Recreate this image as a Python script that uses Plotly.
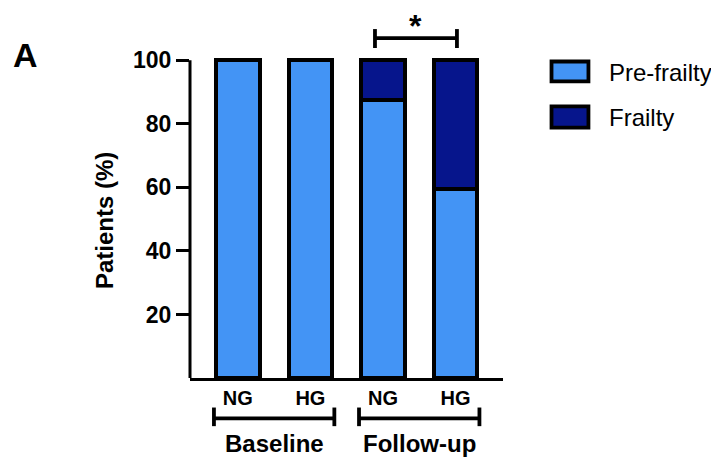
import plotly.graph_objects as go

# ---- data ----
bar_pos = [0, 1, 2, 3]
bar_labels = ["NG", "HG", "NG", "HG"]
pre_frailty = [100, 100, 87.5, 59.5]
frailty = [0, 0, 12.5, 40.5]
series_names = ["Pre-frailty", "Frailty"]
group_names = ["Baseline", "Follow-up"]
group_spans = [[0, 1], [2, 3]]
y_ticks = [20, 40, 60, 80, 100]
sig_pair = [2, 3]
sig_label = "*"

# ---- style ----
FONT = "Liberation Sans, Arial, sans-serif"
C_LIGHT = "#4394F5"
C_DARK = "#06158C"
LW = 3.8
BW = 0.6
colors = [C_LIGHT, C_DARK]

fig = go.Figure()
for name, vals, col in zip(series_names, [pre_frailty, frailty], colors):
    fig.add_trace(go.Bar(
        x=bar_pos, y=vals, name=name, width=BW,
        marker=dict(color=col, line=dict(color="black", width=LW)),
        showlegend=False, hoverinfo="skip",
    ))

shapes = []
annotations = []

# y axis line (0 to 100)
shapes.append(dict(type="line", xref="paper", yref="y", x0=0, x1=0, y0=0, y1=100,
                   line=dict(color="black", width=3)))

# group brackets under axis
for name, (a, b) in zip(group_names, group_spans):
    xl, xr = a - BW / 2 - 0.03, b + BW / 2 + 0.03
    shapes.append(dict(type="line", xref="x", yref="paper", x0=xl, x1=xr, y0=-0.126, y1=-0.126,
                       line=dict(color="black", width=LW)))
    for xx in (xl, xr):
        shapes.append(dict(type="line", xref="x", yref="paper", x0=xx, x1=xx, y0=-0.092, y1=-0.150,
                           line=dict(color="black", width=LW)))
    annotations.append(dict(text="<b>%s</b>" % name, xref="x", yref="paper", x=(a + b) / 2, y=-0.2025,
                            xanchor="center", yanchor="middle", showarrow=False,
                            font=dict(family=FONT, size=24, color="black")))

# significance bracket
sx0, sx1 = sig_pair[0] - 0.11, sig_pair[1] + 0.02
shapes.append(dict(type="line", xref="x", yref="paper", x0=sx0, x1=sx1, y0=1.059, y1=1.059,
                   line=dict(color="black", width=LW)))
for xx in (sx0, sx1):
    shapes.append(dict(type="line", xref="x", yref="paper", x0=xx, x1=xx, y0=1.028, y1=1.087,
                       line=dict(color="black", width=LW)))
annotations.append(dict(text="<b>%s</b>" % sig_label, xref="x", yref="paper", x=(sx0 + sx1) / 2, y=1.035,
                        xanchor="center", yanchor="bottom", showarrow=False,
                        font=dict(family=FONT, size=32, color="black")))

# custom legend
leg_rows = [(0.986, 0.924, 0.953), (0.846, 0.780, 0.81)]
for name, col, (y_top, y_bot, y_txt) in zip(series_names, colors, leg_rows):
    shapes.append(dict(type="rect", xref="paper", yref="paper", x0=1.155, x1=1.273, y0=y_bot, y1=y_top,
                       fillcolor=col, line=dict(color="black", width=LW)))
    annotations.append(dict(text=name, xref="paper", yref="paper", x=1.332, y=y_txt,
                            xanchor="left", yanchor="middle", showarrow=False,
                            font=dict(family=FONT, size=24, color="black")))

# y title
annotations.append(dict(text="<b>Patients (%)</b>", xref="paper", yref="paper", x=-0.275, y=0.492,
                        textangle=-90, xanchor="center", yanchor="middle", showarrow=False,
                        font=dict(family=FONT, size=24, color="black")))
# panel letter
annotations.append(dict(text="<b>A</b>", xref="paper", yref="paper", x=-0.527, y=1.006,
                        xanchor="center", yanchor="middle", showarrow=False,
                        font=dict(family=FONT, size=34, color="black")))

fig.update_layout(
    width=711, height=452,
    margin=dict(l=182, r=216, t=49, b=82, autoexpand=False),
    barmode="stack",
    plot_bgcolor="white", paper_bgcolor="white",
    font=dict(family=FONT, color="black"),
    shapes=shapes, annotations=annotations,
    xaxis=dict(range=[-0.66, 3.655], tickvals=bar_pos, ticktext=["<b>%s</b>" % t for t in bar_labels],
               showline=True, linecolor="black", linewidth=3, ticks="", showgrid=False, zeroline=False,
               tickfont=dict(family=FONT, size=20, color="black"), automargin=False, fixedrange=True),
    yaxis=dict(range=[0, 101], tickvals=y_ticks, ticktext=["<b>%d</b>" % v for v in y_ticks],
               showline=False, ticks="outside", ticklen=13, tickwidth=3, tickcolor="black",
               showgrid=False, zeroline=False, tickfont=dict(family=FONT, size=23, color="black"),
               automargin=False, fixedrange=True),
)

fig.write_html("out.html")
